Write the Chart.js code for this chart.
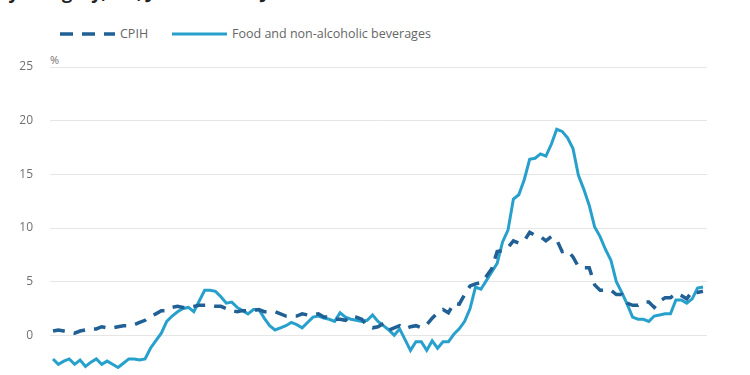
<!DOCTYPE html>
<html>
<head>
<meta charset="utf-8">
<script src="https://cdn.jsdelivr.net/npm/chart.js@4.4.1/dist/chart.umd.min.js"></script>
<style>
  html, body { margin: 0; padding: 0; background: #ffffff; }
  body { width: 750px; height: 375px; overflow: hidden; position: relative; font-family: 'Open Sans', sans-serif; }
  #title { position: absolute; left: -3px; top: -19px; font-weight: bold; font-size: 18px; line-height: 22px; color: #222222; white-space: nowrap; }
  .leg { position: absolute; top: 26px; height: 16px; line-height: 16px; font-size: 12.5px; color: #666666; white-space: nowrap; }
  .legline { position: absolute; top: 31px; }
  #unit { position: absolute; left: 50px; top: 52px; font-size: 11px; color: #707070; }
  #wrap { position: absolute; left: 0; top: 0; width: 750px; height: 440px; }
</style>
</head>
<body>
<div id="title">by category, UK, June 2015 to June 2025</div>
<svg class="legline" style="left:60px" width="55" height="6"><line x1="0" y1="3" x2="55" y2="3" stroke="#206095" stroke-width="3.5" stroke-dasharray="13 9"/></svg>
<div class="leg" style="left:120px">CPIH</div>
<svg class="legline" style="left:172px" width="55" height="6"><line x1="0" y1="3" x2="55" y2="3" stroke="#27a0cc" stroke-width="3"/></svg>
<div class="leg" style="left:232px">Food and non-alcoholic beverages</div>
<div id="unit">%</div>
<div id="wrap"><canvas id="c" width="750" height="440"></canvas></div>
<script>
// Monthly, June 2015 to June 2025 (121 months)
const seriesNames = ['CPIH', 'Food and non-alcoholic beverages'];
const xTickLabels = ['Jun 2015','Jun 2016','Jun 2017','Jun 2018','Jun 2019','Jun 2020','Jun 2021','Jun 2022','Jun 2023','Jun 2024','Jun 2025'];
const yTicks = [-5, 0, 5, 10, 15, 20, 25];

const cpih = [
  0.4, 0.5, 0.4, 0.3, 0.2, 0.4, 0.5,
  0.6, 0.6, 0.8, 0.7, 0.7, 0.8, 0.9, 0.9, 1.0, 1.2, 1.4, 1.8,
  2.0, 2.3, 2.3, 2.6, 2.7, 2.6, 2.6, 2.7, 2.8, 2.8, 2.8, 2.7,
  2.7, 2.5, 2.3, 2.2, 2.3, 2.3, 2.3, 2.4, 2.2, 2.2, 2.2, 2.0,
  1.8, 1.8, 1.8, 2.0, 1.9, 1.9, 2.0, 1.7, 1.7, 1.5, 1.5, 1.4,
  1.8, 1.7, 1.5, 0.9, 0.7, 0.8, 1.1, 0.5, 0.7, 0.9, 0.6, 0.8,
  0.9, 0.7, 1.0, 1.6, 2.1, 2.4, 2.1, 3.0, 2.9, 3.8, 4.6, 4.8,
  4.9, 5.5, 6.2, 7.8, 7.9, 8.2, 8.8, 8.6, 8.8, 9.6, 9.3, 9.2,
  8.8, 9.2, 8.9, 7.8, 7.9, 7.3, 6.4, 6.3, 6.3, 4.7, 4.2, 4.2,
  4.2, 3.8, 3.8, 3.0, 2.8, 2.8, 3.1, 3.1, 2.6, 3.2, 3.5, 3.5,
  3.9, 3.7, 3.4, 4.1, 4.0, 4.1
];

const food = [
  -2.2, -2.7, -2.4, -2.2, -2.7, -2.3, -2.9,
  -2.5, -2.2, -2.7, -2.4, -2.7, -3.0, -2.6, -2.2, -2.2, -2.3, -2.2, -1.2,
  -0.5, 0.2, 1.3, 1.8, 2.2, 2.5, 2.6, 2.2, 3.2, 4.2, 4.2, 4.1,
  3.6, 3.0, 3.1, 2.6, 2.3, 2.0, 2.4, 2.4, 1.6, 0.9, 0.5, 0.7,
  0.9, 1.2, 1.0, 0.7, 1.2, 1.7, 1.8, 1.6, 1.5, 1.3, 2.1, 1.7,
  1.5, 1.4, 1.3, 1.4, 1.9, 1.3, 0.9, 0.5, 0.0, 0.6, -0.4, -1.4,
  -0.6, -0.6, -1.4, -0.5, -1.2, -0.6, -0.6, 0.1, 0.6, 1.3, 2.5, 4.5,
  4.3, 5.1, 5.9, 6.7, 8.7, 9.8, 12.7, 13.1, 14.5, 16.4, 16.5, 16.9,
  16.7, 17.8, 19.2, 19.0, 18.4, 17.4, 14.9, 13.6, 12.1, 10.1, 9.2, 8.0,
  7.0, 5.0, 4.0, 2.9, 1.7, 1.5, 1.5, 1.3, 1.8, 1.9, 2.0, 2.0,
  3.3, 3.3, 3.0, 3.4, 4.4, 4.5
];

const toPoints = arr => arr.map((v, i) => ({ x: i, y: v }));

new Chart(document.getElementById('c'), {
  type: 'line',
  data: {
    datasets: [
      {
        label: seriesNames[0],
        data: toPoints(cpih),
        borderColor: '#206095',
        borderWidth: 3.5,
        borderDash: [12, 9],
        pointRadius: 0,
        tension: 0,
        fill: false
      },
      {
        label: seriesNames[1],
        data: toPoints(food),
        borderColor: '#27a0cc',
        borderWidth: 3,
        pointRadius: 0,
        tension: 0,
        fill: false
      }
    ]
  },
  options: {
    responsive: false,
    animation: false,
    devicePixelRatio: 1,
    layout: { padding: { top: 67, bottom: 11, left: 0, right: 43 } },
    plugins: { legend: { display: false }, tooltip: { enabled: false } },
    scales: {
      x: {
        type: 'linear',
        min: -0.55,
        max: 120.74,
        grid: { display: false, drawTicks: false },
        border: { display: false },
        afterBuildTicks: s => { s.ticks = xTickLabels.map((_, k) => ({ value: k * 12 })); },
        afterFit: s => { s.height = 40; },
        ticks: {
          autoSkip: false,
          maxRotation: 0,
          color: '#707070',
          font: { family: 'Open Sans', size: 12 },
          callback: v => xTickLabels[v / 12]
        }
      },
      y: {
        min: -5,
        max: 25,
        afterBuildTicks: s => { s.ticks = yTicks.map(v => ({ value: v })); },
        afterFit: s => { s.width = 50; },
        grid: { color: '#e6e6e6', lineWidth: 1, drawTicks: false },
        border: { display: false },
        ticks: {
          padding: 17,
          color: '#707070',
          font: { family: 'Open Sans', size: 12 }
        }
      }
    }
  }
});
</script>
</body>
</html>
